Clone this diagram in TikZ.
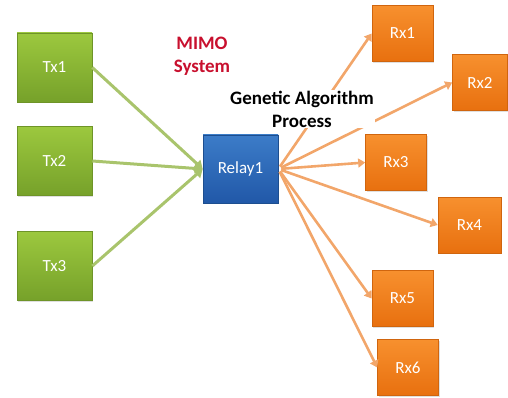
\documentclass[tikz,border=0pt]{standalone}
\usepackage{fontspec}
\setmainfont{Carlito}
\usetikzlibrary{arrows.meta,shadows}
\definecolor{gtop}{HTML}{9CC83E}
\definecolor{gbot}{HTML}{76A12A}
\definecolor{gline}{HTML}{6E9428}
\definecolor{btop}{HTML}{3C7CC8}
\definecolor{bbot}{HTML}{2158A8}
\definecolor{bline}{HTML}{1D4E8F}
\definecolor{otop}{HTML}{F7902E}
\definecolor{obot}{HTML}{E8700F}
\definecolor{oline}{HTML}{D0650E}
\definecolor{garr}{HTML}{A9C46C}
\definecolor{oarr}{HTML}{F2A66A}
\definecolor{mimored}{HTML}{C8102E}
\tikzset{
  box/.style={draw, line width=0.6pt, text=white, font=\fontsize{17}{19}\selectfont,
    inner sep=0pt, drop shadow={opacity=0.25, shadow xshift=1.2pt, shadow yshift=-1.2pt}},
  gbox/.style={box, draw=gline, top color=gtop, bottom color=gbot, minimum width=75pt, minimum height=69pt},
  bbox/.style={box, draw=bline, top color=btop, bottom color=bbot, minimum width=75pt, minimum height=68pt},
  obox/.style={box, draw=oline, top color=otop, bottom color=obot, minimum width=61pt, minimum height=56pt},
  garrow/.style={draw=garr, line width=3pt, -{Triangle[width=10pt,length=8pt]}},
  oarrow/.style={draw=oarr, line width=2.6pt, -{Triangle[width=9pt,length=7pt]}, shorten <=3pt},
  lbl/.style={font=\bfseries\fontsize{19}{23}\selectfont, align=center, inner sep=1pt}
}
\begin{document}
\begin{tikzpicture}[x=1pt,y=-1pt]
\useasboundingbox (0,0) rectangle (508,398);
\node[gbox] (tx1) at (54.5,67.5) {Tx1};
\node[gbox] (tx2) at (54.5,161) {Tx2};
\node[gbox] (tx3) at (54.5,266) {Tx3};
\node[bbox] (relay) at (240.5,169) {Relay1};
\node[obox] (rx1) at (402.5,33.5) {Rx1};
\node[obox, minimum width=55pt] (rx2) at (480,82.5) {Rx2};
\node[obox] (rx3) at (396,162.5) {Rx3};
\node[obox, minimum width=63pt] (rx4) at (469.5,225) {Rx4};
\node[obox] (rx5) at (402.5,298.5) {Rx5};
\node[obox] (rx6) at (408,367.5) {Rx6};
\draw[garrow] (tx1.east) -- (relay.west);
\draw[garrow] (tx2.east) -- (relay.west);
\draw[garrow] (tx3.east) -- (relay.west);
\foreach \r in {rx1,rx2,rx3,rx4,rx5,rx6}{
  \draw[oarrow] (relay.east) -- (\r.west);
}
\node[lbl, text=mimored] (mimo) at (202,56) {MIMO\\System};
\node[lbl, fill=white, text=black] (ga) at (302,109) {Genetic Algorithm\\Process};
\end{tikzpicture}
\end{document}
